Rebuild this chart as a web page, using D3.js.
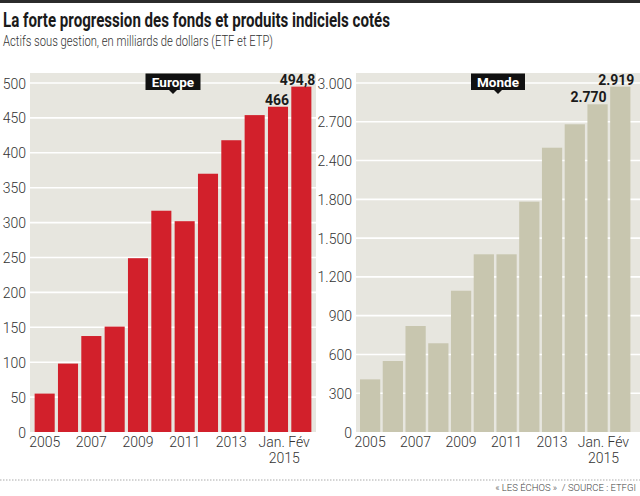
<!DOCTYPE html>
<html><head><meta charset="utf-8">
<script src="https://cdn.jsdelivr.net/npm/d3@7"></script>
<style>body{margin:0;background:#fff}svg{display:block}</style>
</head><body><svg id="c" width="640" height="496"></svg>
<script>
const title = "La forte progression des fonds et produits indiciels cotés";
const subtitle = "Actifs sous gestion, en milliards de dollars (ETF et ETP)";
const source = "« LES ÉCHOS »  / SOURCE : ETFGI";

const periods = ["2005","2006","2007","2008","2009","2010","2011","2012","2013","2014","Jan. 2015","Fév 2015"];
const europeValues = [55, 98, 137.5, 151, 249, 317, 302, 370, 418, 454, 466, 494.8];
const mondeValues  = [445, 600, 896, 750, 1194, 1502, 1502, 1947, 2403, 2601, 2770, 2919];
const europeTicks = [0, 50, 100, 150, 200, 250, 300, 350, 400, 450, 500];
const mondeTicks = ["0","300","600","900","1.200","1.500","1.800","2.400","2.700","3.000"];
const xTickPeriods = ["2005","2007","2009","2011","2013"];
const lastLabelLines = ["Jan. Fév","2015"];
const europeValueLabels = ["466","494,8"];
const mondeValueLabels = ["2.770","2.919"];

const svg = d3.select("#c");
const FONT = "Roboto, 'Noto Sans', sans-serif";

// top rule
svg.append("rect").attr("x",0).attr("y",0).attr("width",640).attr("height",3).attr("fill","#2b2b2b");

svg.append("text").attr("x",3).attr("y",27).text(title)
  .attr("font-family",FONT).attr("font-weight",700).attr("font-size",19.5).attr("fill","#1a1a1a")
  .attr("textLength",387).attr("lengthAdjust","spacingAndGlyphs");
svg.append("text").attr("x",3).attr("y",45.5).text(subtitle)
  .attr("font-family",FONT).attr("font-weight",300).attr("font-size",14).attr("fill","#333")
  .attr("textLength",270).attr("lengthAdjust","spacingAndGlyphs");

function panel(opt){
  const g = svg.append("g");
  const y0 = 432;
  g.append("rect").attr("x",opt.bgX0).attr("y",73).attr("width",opt.bgX1-opt.bgX0).attr("height",y0-73)
    .attr("fill","#e7e6df");
  // y labels
  const axis = d3.axisLeft(opt.tickScale).tickSize(0).tickPadding(4).tickFormat(opt.tickFormat);
  if (opt.tickValues) axis.tickValues(opt.tickValues);
  const ax = g.append("g").attr("transform",`translate(${opt.bgX0},0)`).call(axis);
  ax.select(".domain").remove();
  ax.selectAll("text").attr("font-family",FONT).attr("font-weight",300).attr("font-size",14).attr("fill","#333")
    .attr("dy","0.36em");
  // grid
  const gridVals = opt.tickValues || opt.tickScale.domain();
  g.append("g").selectAll("line").data(gridVals.filter((d,i)=>i>0)).join("line")
    .attr("x1",opt.bgX0).attr("x2",opt.bgX1)
    .attr("y1",d=>opt.tickScale(d)).attr("y2",d=>opt.tickScale(d))
    .attr("stroke","#fff").attr("stroke-width",1.6);
  // bars
  const x = opt.x, y = opt.y;
  g.append("g").selectAll("rect").data(opt.values).join("rect")
    .attr("x",(d,i)=>x(periods[i])).attr("width",x.bandwidth())
    .attr("y",d=>y(d)).attr("height",d=>y(0)-y(d)).attr("fill",opt.color);
  // value labels on last two bars
  const n = periods.length;
  opt.valueLabels.forEach((lab,k)=>{
    const i = n-2+k;
    g.append("text").attr("x",x(periods[i])+x.bandwidth()+(k===0?opt.dx0:4))
      .attr("y",y(opt.values[i])-2).attr("text-anchor","end").text(lab)
      .attr("font-family",FONT).attr("font-weight",700).attr("font-size",14).attr("fill","#1a1a1a");
  });
  // x labels
  g.append("g").selectAll("text").data(xTickPeriods).join("text")
    .attr("x",d=>x(d)+x.bandwidth()/2).attr("y",447).attr("text-anchor","middle").text(d=>d)
    .attr("font-family",FONT).attr("font-weight",300).attr("font-size",14).attr("fill","#333");
  const mid = (x(periods[n-2]) + x(periods[n-1]) + x.bandwidth())/2 - 5.5;
  lastLabelLines.forEach((t,k)=>{
    g.append("text").attr("x",mid).attr("y",447+16*k).attr("text-anchor","middle").text(t)
      .attr("font-family",FONT).attr("font-weight",300).attr("font-size",14).attr("fill","#333");
  });
  // badge
  const cx = (opt.bgX0+opt.bgX1)/2, w = opt.badgeW;
  g.append("path").attr("d",`M${cx-w/2},73.5 h${w} v16.5 h${-w/2+4} l-4,4 l-4,-4 h${-w/2+4} Z`).attr("fill","#111");
  g.append("text").attr("x",cx).attr("y",86.5).attr("text-anchor","middle").text(opt.name)
    .attr("font-family",FONT).attr("font-weight",700).attr("font-size",13.5).attr("fill","#fff");
}

const xE = d3.scaleBand().domain(periods).range([33,313]).paddingInner(0.14).paddingOuter(0.07);
const yE = d3.scaleLinear().domain([0,500]).range([432,83]);
panel({name:"Europe", bgX0:30, bgX1:316, x:xE, y:yE, values:europeValues, color:"#d2202b",
  tickScale:yE, tickValues:europeTicks, tickFormat:d=>d, valueLabels:europeValueLabels, dx0:1, badgeW:55});

const xM = d3.scaleBand().domain(periods).range([358.4,632]).paddingInner(0.11).paddingOuter(0.07);
const yM = d3.scaleLinear().domain([0,2950]).range([432,83]);
const yMTicks = d3.scalePoint().domain(mondeTicks).range([432,83]);
panel({name:"Monde", bgX0:356, bgX1:640, x:xM, y:yM, values:mondeValues, color:"#c8c6af",
  tickScale:yMTicks, tickValues:null, tickFormat:d=>d, valueLabels:mondeValueLabels, dx0:-1, badgeW:54});

// footer
svg.append("line").attr("x1",0).attr("x2",640).attr("y1",480).attr("y2",480)
  .attr("stroke","#aaa").attr("stroke-width",1).attr("stroke-dasharray","1.5,1.5");
svg.append("text").attr("x",636).attr("y",490.5).attr("text-anchor","end").text(source)
  .attr("font-family",FONT).attr("font-weight",300).attr("font-size",9.5).attr("fill","#444")
  .attr("xml:space","preserve");
</script></body></html>
